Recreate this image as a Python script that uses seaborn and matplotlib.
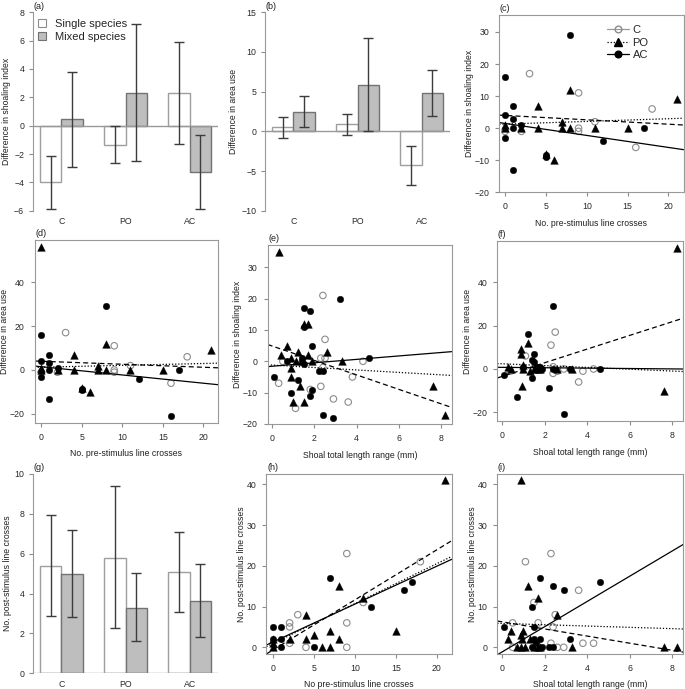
import numpy as np
import pandas as pd
import matplotlib
matplotlib.use('Agg')
import matplotlib.pyplot as plt
from matplotlib.lines import Line2D
from matplotlib.patches import Patch
import seaborn as sns

sns.set_style('ticks')
plt.rcParams['font.family'] = ['Liberation Sans', 'DejaVu Sans']
plt.rcParams.update({
    'xtick.labelsize': 6.3, 'ytick.labelsize': 6.3, 'axes.labelsize': 6.2,
    'xtick.color': '0.55', 'ytick.color': '0.55',
    'xtick.labelcolor': '#2a2a2a', 'ytick.labelcolor': '#2a2a2a',
    'axes.labelcolor': '#1e1e1e', 'axes.edgecolor': '0.6', 'axes.linewidth': 0.8,
    'xtick.major.size': 2.7, 'ytick.major.size': 2.7,
    'xtick.major.width': 0.8, 'ytick.major.width': 0.8,
})

W, H = 685, 689

treatments = ['C', 'PO', 'AC']
shoal_types = ['Single species', 'Mixed species']

# (a) difference in shoaling index
a_single = [-4.0, -1.35, 2.3]
a_single_lo = [-5.85, -2.65, -1.3]
a_single_hi = [-2.15, -0.05, 5.9]
a_mixed = [0.45, 2.3, -3.3]
a_mixed_lo = [-2.9, -2.5, -5.9]
a_mixed_hi = [3.8, 7.15, -0.65]

# (b) difference in area use
b_single = [0.55, 0.9, -4.3]
b_single_lo = [-0.8, -0.4, -6.7]
b_single_hi = [1.8, 2.2, -1.85]
b_mixed = [2.4, 5.8, 4.8]
b_mixed_lo = [0.5, 0.0, 1.95]
b_mixed_hi = [4.4, 11.7, 7.7]

# (g) post-stimulus line crosses
g_single = [5.4, 5.8, 5.1]
g_single_lo = [2.85, 2.25, 3.1]
g_single_hi = [7.95, 9.4, 7.1]
g_mixed = [5.0, 3.3, 3.65]
g_mixed_lo = [2.8, 1.6, 1.8]
g_mixed_hi = [7.2, 5.05, 5.5]

# (c)/(d) pre-stimulus crosses vs difference
cd_C_x = [0, 2, 3, 9, 9, 9, 11, 16, 18]
cd_C_y = [-1, -1, 17, 11, 0, -1, 2, -6, 6]
cd_PO_x = [0, 0, 0, 2, 4, 4, 5, 6, 7, 7, 8, 8, 11, 15, 21]
cd_PO_y = [56, 1, 0, 0, 7, 0, -8, -10, 2, 0, 12, 0, 0, 0, 9]
cd_AC_x = [0, 0, 0, 1, 1, 1, 1, 2, 5, 5, 8, 12, 16, 17]
cd_AC_y = [16, 4, -3, 7, 3, 0, -13, 1, -8.5, -9, 29, -4, -21, 0]

# (e) shoal length range vs difference in shoaling index
e_C_x = [0.3, 0.5, 1.1, 1.8, 2.3, 2.3, 2.4, 2.4, 2.5, 2.5, 2.9, 3.6, 3.8, 4.3]
e_C_y = [-7, 0, -15, -9, 1, -8, 21, -2, 7, 1, -12, -13, -5, 0]
e_PO_x = [0.3, 0.4, 0.7, 0.9, 0.9, 0.9, 1.0, 1.1, 1.2, 1.3, 1.4, 1.5, 1.5, 1.7, 1.7, 1.9, 2.6, 3.3, 7.6, 8.2]
e_PO_y = [35, 2, 5, 1, -2, -5, -13, 0, 3, -8, 0, -13, 12, 12, 2, 0, 3, 0, -8, -17]
e_AC_x = [0.1, 0.7, 0.9, 1.2, 1.4, 1.4, 1.5, 1.5, 1.5, 1.8, 1.8, 1.9, 1.9, 2.2, 2.4, 2.4, 2.9, 3.2, 4.6]
e_AC_y = [-5, 0, -10, -6, 1, 0, 17, 11, -1, 16, -11, 5, -9, -3, -3, -17, -18, 20, 1]

# (f) shoal length range vs difference in area use
f_C_x = [0.4, 1.1, 2.3, 2.4, 2.4, 2.5, 2.6, 2.9, 3.6, 3.8, 4.3]
f_C_y = [-1, 6, 11, 1, -2, 17, -1, 0, -6, -1, 0]
f_PO_x = [0.3, 0.4, 0.9, 0.9, 0.95, 1.0, 1.0, 1.2, 1.3, 1.5, 1.7, 1.8, 2.6, 3.3, 7.6, 8.2]
f_PO_y = [1, 0, 9, 7, -8, 2, 0, 12, -1, 0, 0, 0, 0, 0, -10, 56]
f_AC_x = [0.1, 0.7, 1.0, 1.2, 1.4, 1.4, 1.5, 1.5, 1.6, 1.8, 1.9, 2.2, 2.4, 2.4, 2.9, 3.2, 4.6]
f_AC_y = [-3, -13, 1, 16, 4, -4, 7, 3, 1, 1, 0, -9, 29, 0, -21, 0, 0]

# (h) pre vs post-stimulus crosses
h_C_x = [2, 2, 2, 3, 4, 9, 9, 9, 11, 18]
h_C_y = [6, 5, 1, 8, 0, 23, 6, 0, 11, 21]
h_PO_x = [0, 0, 0, 2, 4, 4, 5, 6, 7, 7, 8, 8, 11, 15, 21]
h_PO_y = [2, 1, 0, 2, 8, 2, 3, 0, 4, 0, 15, 2, 12, 4, 41]
h_AC_x = [0, 0, 1, 1, 1, 5, 7, 12, 16, 17]
h_AC_y = [5, 2, 5, 2, 0, 0, 17, 10, 14, 16]

# (i) shoal length range vs post-stimulus crosses
i_C_x = [0.5, 0.5, 1.1, 1.5, 1.7, 2.3, 2.3, 2.4, 2.5, 2.6, 2.9, 3.6, 3.8, 4.3]
i_C_y = [6, 0, 21, 11, 6, 23, 1, 5, 8, 0, 0, 14, 1, 1]
i_PO_x = [0.3, 0.4, 0.7, 0.9, 0.9, 0.9, 0.95, 1.0, 1.1, 1.2, 1.3, 1.5, 1.7, 1.7, 1.8, 2.6, 3.3, 7.6, 8.2]
i_PO_y = [2, 4, 0, 41, 3, 0, 2, 4, 0, 15, 2, 0, 12, 0, 0, 8, 0, 0, 0]
i_AC_x = [0.1, 1.4, 1.4, 1.5, 1.5, 1.6, 1.8, 1.8, 1.9, 2.2, 2.4, 2.4, 2.9, 3.2, 4.6]
i_AC_y = [5, 10, 0, 5, 2, 1, 17, 2, 0, 0, 15, 0, 14, 2, 16]

# fitted lines (intercept, slope), in order dashed, dotted, solid
fit_styles = [(0, (4, 2.5)), (0, (1, 1.5)), '-']
cd_fits = [(3.98, -0.137), (1.27, 0.084), (1.49, -0.375)]
e_fits = [(4.85, -2.30), (-1.2, -0.39), (-1.57, 0.546)]
f_fits = [(-3.46, 3.16), (2.4, -0.42), (0.75, -0.09)]
h_fits = [(-0.6, 1.225), (0.98, 0.976), (1.34, 0.927)]
i_fits = [(6.26, -0.875), (5.86, -0.16), (-1.15, 3.1)]


fig = plt.figure(figsize=(W / 100, H / 100), dpi=100)


def panel(l, t, r, b):
    return fig.add_axes([l / W, 1 - b / H, (r - l) / W, (b - t) / H])


def tag(ax, s):
    ax.annotate(s, (0, 1), xycoords='axes fraction', xytext=(0.5, 4.5),
                textcoords='offset points', ha='left', va='center',
                fontsize=6.5, color='#1e1e1e')


def bar_panel(ax, single, s_lo, s_hi, mixed, m_lo, m_hi, ylim, yticks, ylabel, label):
    df = pd.DataFrame({'treatment': treatments * 2,
                       'shoal': [shoal_types[0]] * 3 + [shoal_types[1]] * 3,
                       'value': single + mixed})
    sns.barplot(data=df, x='treatment', y='value', hue='shoal', order=treatments,
                hue_order=shoal_types, palette=['white', '#bebebe'], saturation=1,
                width=2 / 3, gap=0, errorbar=None, linewidth=1, edgecolor='0.55',
                legend=False, ax=ax)
    vals, lo, hi = [], [], []
    for k in range(3):
        vals += [single[k], mixed[k]]
        lo += [s_lo[k], m_lo[k]]
        hi += [s_hi[k], m_hi[k]]
    bars = sorted(ax.patches, key=lambda p: p.get_x())
    for j, p in enumerate(bars):
        p.set_edgecolor('0.62' if j % 2 == 0 else '0.45')
        xc = p.get_x() + p.get_width() / 2
        ax.errorbar(xc, vals[j], yerr=[[vals[j] - lo[j]], [hi[j] - vals[j]]], fmt='none',
                    ecolor='#3c3c3c', elinewidth=1, capsize=3.6, capthick=1, zorder=4)
    ax.axhline(0, color='0.6', lw=1, zorder=3)
    ax.set_xlim(-0.44, 2.44)
    ax.set_ylim(*ylim)
    ax.set_yticks(yticks)
    for s in ['top', 'right', 'bottom']:
        ax.spines[s].set_visible(False)
    ax.spines['left'].set_color('0.6')
    ax.tick_params(axis='x', length=0, pad=4.8)
    ax.tick_params(axis='y', pad=3.6)
    ax.set_xlabel('')
    ax.set_ylabel(ylabel, labelpad=2)
    tag(ax, label)


def scatter_panel(ax, cx, cy, px, py, acx, acy, fits, xlim, ylim, xticks, yticks,
                  xlabel, ylabel, label):
    sns.scatterplot(x=cx, y=cy, marker='o', s=22, facecolor='none', edgecolor='0.55',
                    linewidth=0.8, ax=ax)
    sns.scatterplot(x=px, y=py, marker='^', s=30, color='black', edgecolor='black',
                    linewidth=0.3, ax=ax)
    sns.scatterplot(x=acx, y=acy, marker='o', s=22, color='black', edgecolor='black',
                    linewidth=0.3, ax=ax)
    for (b, m), ls in zip(fits, fit_styles):
        ax.axline((0, b), slope=m, color='black', lw=0.9, ls=ls)
    ax.set_xlim(*xlim)
    ax.set_ylim(*ylim)
    ax.set_xticks(xticks)
    ax.set_yticks(yticks)
    ax.tick_params(axis='x', pad=4.3)
    ax.tick_params(axis='y', pad=4.6)
    ax.set_xlabel(xlabel, labelpad=5.5)
    ax.set_ylabel(ylabel, labelpad=0.3)
    tag(ax, label)


# row 1
ax_a = panel(33, 12.3, 218, 210.7)
bar_panel(ax_a, a_single, a_single_lo, a_single_hi, a_mixed, a_mixed_lo, a_mixed_hi,
          (-6, 8), range(-6, 9, 2), 'Difference in shoaling index', '(a)')
ax_a.legend(handles=[Patch(facecolor='white', edgecolor='0.55', lw=0.8),
                     Patch(facecolor='#bebebe', edgecolor='0.45', lw=0.8)],
            labels=shoal_types, loc='upper left', bbox_to_anchor=(0.027, 0.965),
            frameon=False, fontsize=8, handlelength=0.75, handleheight=0.75,
            handletextpad=0.8, labelspacing=0.25, borderpad=0, borderaxespad=0)

ax_b = panel(265, 12.3, 450, 210.7)
bar_panel(ax_b, b_single, b_single_lo, b_single_hi, b_mixed, b_mixed_lo, b_mixed_hi,
          (-10, 15), range(-10, 16, 5), 'Difference in area use', '(b)')

ax_c = panel(499.3, 15, 683.5, 192.3)
scatter_panel(ax_c, cd_C_x, cd_C_y, cd_PO_x, cd_PO_y, cd_AC_x, cd_AC_y, cd_fits,
              (-0.7, 21.84), (-20, 35.3), range(0, 21, 5), range(-20, 31, 10),
              'No. pre-stimulus line crosses', 'Difference in shoaling index', '(c)')
ax_c.legend(handles=[Line2D([], [], color='0.6', lw=0.9, marker='o', ms=4.8,
                            mfc='none', mec='0.55'),
                     Line2D([], [], color='black', lw=0.9, ls=(0, (1, 1.5)),
                            marker='^', ms=5.3, mfc='black', mec='black'),
                     Line2D([], [], color='black', lw=0.9, marker='o', ms=4.8,
                            mfc='black', mec='black')],
            labels=treatments, loc='upper left', bbox_to_anchor=(0.585, 0.945),
            frameon=False, fontsize=8, handlelength=2.0, handletextpad=0.3,
            labelspacing=0.25, borderpad=0, borderaxespad=0)

# row 2
ax_d = panel(34.5, 240, 218.3, 423)
scatter_panel(ax_d, cd_C_x, cd_C_y, cd_PO_x, cd_PO_y, cd_AC_x, cd_AC_y, cd_fits,
              (-0.84, 21.84), (-24.1, 59.1), range(0, 21, 5), range(-20, 41, 20),
              'No. pre-stimulus line crosses', 'Difference in area use', '(d)')

ax_e = panel(267.7, 245, 451.9, 424.3)
scatter_panel(ax_e, e_C_x, e_C_y, e_PO_x, e_PO_y, e_AC_x, e_AC_y, e_fits,
              (-0.22, 8.52), (-20.1, 37.1), range(0, 9, 2), range(-20, 31, 10),
              'Shoal total length range (mm)', 'Difference in shoaling index', '(e)')

ax_f = panel(497.3, 240.9, 683.4, 421.2)
scatter_panel(ax_f, f_C_x, f_C_y, f_PO_x, f_PO_y, f_AC_x, f_AC_y, f_fits,
              (-0.22, 8.52), (-24.1, 59.1), range(0, 9, 2), range(-20, 41, 20),
              'Shoal total length range (mm)', 'Difference in area use', '(f)')

# row 3
ax_g = panel(33, 474, 218, 673.3)
bar_panel(ax_g, g_single, g_single_lo, g_single_hi, g_mixed, g_mixed_lo, g_mixed_hi,
          (0, 10), range(0, 11, 2), 'No. post-stimulus line crosses', '(g)')

ax_h = panel(266.4, 473.5, 451.7, 654)
scatter_panel(ax_h, h_C_x, h_C_y, h_PO_x, h_PO_y, h_AC_x, h_AC_y, h_fits,
              (-0.84, 21.84), (-1.64, 42.64), range(0, 21, 5), range(0, 41, 10),
              'No pre-stimulus line crosses', 'No. post-stimulus line crosses', '(h)')

ax_i = panel(497.3, 473.5, 683.4, 654)
scatter_panel(ax_i, i_C_x, i_C_y, i_PO_x, i_PO_y, i_AC_x, i_AC_y, i_fits,
              (-0.22, 8.52), (-1.64, 42.64), range(0, 9, 2), range(0, 41, 10),
              'Shoal total length range (mm)', 'No. post-stimulus line crosses', '(i)')

fig.savefig('out.png', dpi=100)
